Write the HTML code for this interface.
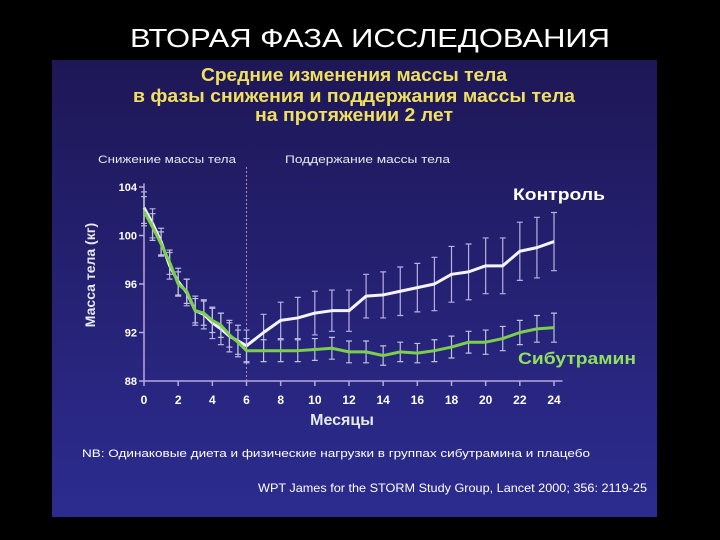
<!DOCTYPE html>
<html><head><meta charset="utf-8"><style>
html,body{margin:0;padding:0;background:#000;width:720px;height:540px;overflow:hidden}
svg{display:block}
text{font-family:"Liberation Sans","DejaVu Sans",sans-serif}
</style></head><body>
<svg width="720" height="540" viewBox="0 0 720 540">
<defs><linearGradient id="bg" x1="0" y1="0" x2="0" y2="1"><stop offset="0" stop-color="#1e1756"/><stop offset="1" stop-color="#2c2c90"/></linearGradient></defs>
<rect x="0" y="0" width="720" height="540" fill="#000"/>
<text x="130" y="47" font-size="26" fill="#fff" textLength="480" lengthAdjust="spacingAndGlyphs">ВТОРАЯ ФАЗА ИССЛЕДОВАНИЯ</text>
<rect x="52" y="60" width="605" height="457" fill="url(#bg)"/>
<g font-weight="bold" fill="#f0e060" font-size="18">
<text x="201" y="81" textLength="306" lengthAdjust="spacingAndGlyphs">Средние изменения массы тела</text>
<text x="133" y="102" textLength="442" lengthAdjust="spacingAndGlyphs">в фазы снижения и  поддержания массы тела</text>
<text x="255" y="121" textLength="198" lengthAdjust="spacingAndGlyphs">на протяжении 2 лет</text>
</g>
<text x="98" y="163" font-size="11" fill="#e8e8f0" textLength="138" lengthAdjust="spacingAndGlyphs">Снижение массы тела</text>
<text x="285" y="163" font-size="11" fill="#e8e8f0" textLength="165" lengthAdjust="spacingAndGlyphs">Поддержание массы тела</text>
<text x="513" y="200" font-size="17" font-weight="bold" fill="#fff" textLength="92" lengthAdjust="spacingAndGlyphs">Контроль</text>
<text x="518" y="364" font-size="17" font-weight="bold" fill="#8fe060" textLength="118" lengthAdjust="spacingAndGlyphs">Сибутрамин</text>
<text transform="translate(95,275) rotate(-90)" text-anchor="middle" font-size="14" font-weight="bold" fill="#e8e8f0">Масса тела (кг)</text>
<text x="342" y="425" text-anchor="middle" font-size="16" font-weight="bold" fill="#e8e8f0">Месяцы</text>
<text x="82" y="457" font-size="11" fill="#fff" textLength="508" lengthAdjust="spacingAndGlyphs">NB: Одинаковые диета и физические нагрузки в группах сибутрамина и плацебо</text>
<text x="258" y="492" font-size="12" fill="#fff" textLength="389" lengthAdjust="spacingAndGlyphs">WPT James for the STORM Study Group, Lancet 2000; 356: 2119-25</text>
<g id="plot"></g>
</svg>
<script>
const months=[0,0.5,1,1.5,2,2.5,3,3.5,4,4.5,5,5.5,6,7,8,9,10,11,12,13,14,15,16,17,18,19,20,21,22,23,24];
const controlValues=[102.3,101,99.5,97.5,96.2,95.3,93.8,93.5,92.8,92.3,91.7,91.3,90.9,92,93,93.2,93.6,93.8,93.8,95,95.1,95.4,95.7,96,96.8,97,97.5,97.5,98.7,99,99.5];
const controlErr=[1.3,1.2,1.1,1.1,1.1,1.1,1.2,1.2,1.3,1.3,1.3,1.3,1.3,1.5,1.5,1.7,1.8,1.7,1.7,1.8,1.9,2,2,2.2,2.3,2.3,2.3,2.3,2.4,2.5,2.4];
const sibValues=[102,100.7,99.3,97.8,96,95.4,93.8,93.6,93,92.6,91.8,91.2,90.5,90.5,90.5,90.5,90.6,90.7,90.4,90.4,90.1,90.4,90.3,90.5,90.8,91.2,91.2,91.5,92,92.3,92.4];
const sibErr=[1.2,1.1,1,1,1,1,1,1,1,1,1,1,1,0.9,0.9,0.9,0.9,0.9,0.9,0.9,0.8,0.8,0.8,0.9,0.9,0.9,1,1,1,1.1,1.2];
const xTicks=[0,2,4,6,8,10,12,14,16,18,20,22,24];
const yTicks=[88,92,96,100,104];
const NS="http://www.w3.org/2000/svg";
const X=m=>144+m*(554-144)/24;
const Y=v=>381-(v-88)*(381-187)/16;
const g=document.getElementById('plot');
function el(tag,attrs,parent){const e=document.createElementNS(NS,tag);for(const k in attrs)e.setAttribute(k,attrs[k]);(parent||g).appendChild(e);return e;}
let a=el('line',{x1:X(0),y1:Y(88),x2:X(0),y2:Y(104.3),stroke:'#b9a8e0','stroke-width':1.5});


a=el('line',{x1:X(0),y1:Y(88),x2:X(24.5),y2:Y(88),stroke:'#b9a8e0','stroke-width':1.5});


a=el('line',{x1:X(6),y1:167,x2:X(6),y2:Y(88),stroke:'#c080c0','stroke-width':1,'stroke-dasharray':'2,2'});


xTicks.forEach(t=>{
 let l=el('line',{x1:X(t),y1:Y(88),x2:X(t),y2:Y(88)+5,stroke:'#b9a8e0','stroke-width':1.5});
 
 
 let tx=el('text',{x:X(t),y:Y(88)+23,'text-anchor':'middle','font-size':12,'font-weight':'bold',fill:'#fff'});
 tx.textContent=t;
 
 
});
yTicks.forEach(t=>{
 let l=el('line',{x1:X(0)-5,y1:Y(t),x2:X(0),y2:Y(t),stroke:'#b9a8e0','stroke-width':1.5});
 
 
 let tx=el('text',{x:X(0)-7,y:Y(t)+4,'text-anchor':'end','font-size':11,'font-weight':'bold',fill:'#fff'});
 tx.textContent=t;
 
 
});
function series(vals,errs,color,ecolor,name){
 vals.forEach((v,i)=>{
  const x=X(months[i]);
  let e=el('path',{d:`M${x},${Y(v-errs[i])}V${Y(v+errs[i])}M${x-3},${Y(v-errs[i])}h6M${x-3},${Y(v+errs[i])}h6`,stroke:ecolor,'stroke-width':1.2,fill:'none'});
  
  
 });
 const pts=vals.map((v,i)=>X(months[i])+','+Y(v)).join(' ');
 let p=el('polyline',{points:pts,fill:'none',stroke:color,'stroke-width':3,'stroke-linejoin':'round'});
 
 
}
series(controlValues,controlErr,'#f4f4ff','#b8b0e0','control');
series(sibValues,sibErr,'#7ccf4a','#c0c0e0','sibutramine');
</script>
</body></html>
